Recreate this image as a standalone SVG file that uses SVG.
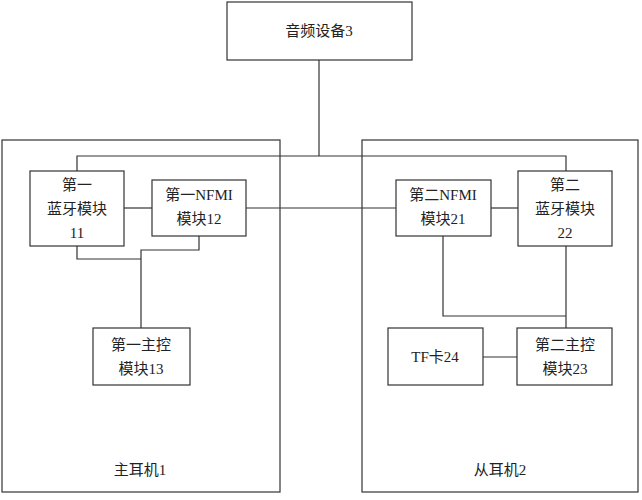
<svg xmlns="http://www.w3.org/2000/svg" width="642" height="500" viewBox="0 0 642 500">
<style>
rect{fill:#fff;stroke:#333;stroke-width:1.2}
line,polyline{fill:none;stroke:#333;stroke-width:1.2}
text{font-family:"Liberation Serif","Noto Sans CJK SC",serif;font-size:15px;fill:#222;text-anchor:middle}
</style>
<rect x="0" y="0" width="642" height="500" style="fill:#fff;stroke:none"/>
<g id="earL"><rect x="2" y="140" width="278" height="352"/><text x="140" y="475">主耳机1</text></g>
<g id="earR"><rect x="362" y="140" width="276" height="352"/><text x="500" y="475">从耳机2</text></g>
<g id="connectors">
<line x1="319" y1="60" x2="319" y2="156"/>
<polyline points="77,171 77,156 566,156 566,171"/>
<line x1="124" y1="208" x2="152" y2="208"/>
<line x1="246" y1="208" x2="396" y2="208"/>
<line x1="491" y1="208" x2="518" y2="208"/>
<polyline points="77,246 77,259 141,259"/>
<polyline points="199,236 199,250 141,250 141,328"/>
<polyline points="443,236 443,316 566,316"/>
<line x1="566" y1="246" x2="566" y2="328"/>
<line x1="483" y1="357" x2="517" y2="357"/>
</g>
<g id="audio"><rect x="227" y="2" width="185" height="58"/><text x="319" y="36">音频设备3</text></g>
<g id="bt1"><rect x="30" y="171" width="94" height="75"/><text x="77" y="190">第一</text><text x="77" y="214">蓝牙模块</text><text x="77" y="238">11</text></g>
<g id="nfmi1"><rect x="152" y="180" width="94" height="56"/><text x="199" y="200">第一NFMI</text><text x="199" y="224">模块12</text></g>
<g id="mc1"><rect x="93" y="328" width="97" height="57"/><text x="141" y="350">第一主控</text><text x="141" y="374">模块13</text></g>
<g id="nfmi2"><rect x="396" y="180" width="95" height="56"/><text x="443" y="200">第二NFMI</text><text x="443" y="224">模块21</text></g>
<g id="bt2"><rect x="518" y="171" width="94" height="75"/><text x="565" y="190">第二</text><text x="565" y="214">蓝牙模块</text><text x="565" y="238">22</text></g>
<g id="tf"><rect x="388" y="328" width="95" height="57"/><text x="435" y="362">TF卡24</text></g>
<g id="mc2"><rect x="517" y="328" width="95" height="57"/><text x="565" y="350">第二主控</text><text x="565" y="374">模块23</text></g>
</svg>
